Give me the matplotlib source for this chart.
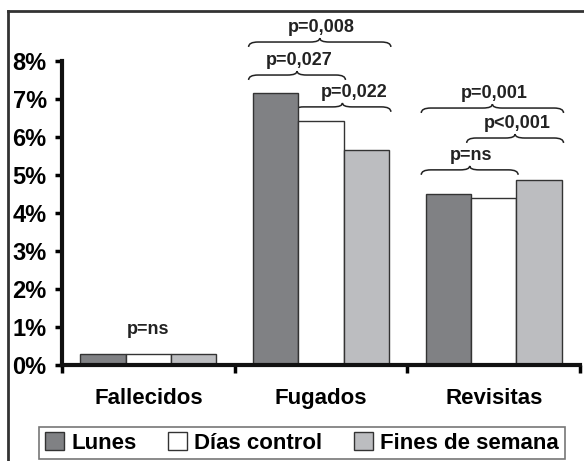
import numpy as np
import matplotlib
matplotlib.use('Agg')
import matplotlib.pyplot as plt
from matplotlib.path import Path
from matplotlib.patches import PathPatch
from matplotlib.lines import Line2D

plt.rcParams['font.family'] = ['Liberation Sans', 'DejaVu Sans']
plt.rcParams['font.weight'] = 'bold'

# ---------------------- datos ----------------------
categorias = ['Fallecidos', 'Fugados', 'Revisitas']
series = ['Lunes', 'Días control', 'Fines de semana']
lunes = [0.29, 7.15, 4.49]
control = [0.28, 6.43, 4.38]
fines = [0.27, 5.66, 4.87]
yticks = [0, 1, 2, 3, 4, 5, 6, 7, 8]

# llaves: (grupo, serie inicial, serie final, altura llave, texto, desplazamiento texto)
llaves = [
    (1, 0, 1, 7.63, 'p=0,027', 0.01),
    (1, 0, 2, 8.50, 'p=0,008', 0.01),
    (1, 1, 2, 6.79, 'p=0,022', 0.07),
    (2, 0, 2, 6.76, 'p=0,001', 0.01),
    (2, 1, 2, 5.97, 'p<0,001', 0.01),
    (2, 0, 1, 5.13, 'p=ns', 0.01),
]

colores = ['#808184', '#ffffff', '#bcbdc0']
borde = '#333333'


def dibujar_llave(ax, x0, x1, y, h=0.13, r=0.055):
    """llave horizontal: extremos hacia abajo, punta central hacia arriba"""
    xm = (x0 + x1) / 2
    verts = [
        (x0, y - h), (x0, y), (x0 + r, y),
        (xm - r, y),
        (xm, y), (xm, y + h * 0.8),
        (xm, y), (xm + r, y),
        (x1 - r, y),
        (x1, y), (x1, y - h),
    ]
    codes = [Path.MOVETO, Path.CURVE3, Path.CURVE3,
             Path.LINETO,
             Path.CURVE3, Path.CURVE3,
             Path.CURVE3, Path.CURVE3,
             Path.LINETO,
             Path.CURVE3, Path.CURVE3]
    ax.add_patch(PathPatch(Path(verts, codes), fill=False, lw=1.1,
                           edgecolor='#222222', clip_on=False))
    return xm


fig = plt.figure(figsize=(5.84, 4.61), dpi=100)
ax = fig.add_axes([0.1062, 0.2093, 0.887, 0.6584])

x = np.arange(len(categorias))
w = 0.263
valores = [lunes, control, fines]
for i, (nombre, vals) in enumerate(zip(series, valores)):
    ax.bar(x + (i - 1) * w, vals, width=w, color=colores[i],
           edgecolor=borde, linewidth=1.0, label=nombre, zorder=2)

ax.set_xlim(-0.5, 2.5)
ax.set_ylim(0, 8)
ax.set_yticks(yticks)
ax.set_yticklabels([f'{t}%' for t in yticks], fontsize=17, fontweight='bold')
ax.set_xticks([-0.5, 0.5, 1.5, 2.5])
ax.set_xticklabels([])
ax.set_xticks(x, minor=True)
ax.set_xticklabels(categorias, minor=True, fontsize=16, fontweight='bold')
ax.tick_params(axis='x', which='minor', length=0, pad=17)
ax.tick_params(axis='x', which='major', length=6, width=2.5, direction='out')
ax.tick_params(axis='y', length=5, width=2.5, direction='out', pad=6)

for s in ['top', 'right']:
    ax.spines[s].set_visible(False)
for s in ['left', 'bottom']:
    ax.spines[s].set_linewidth(3)
    ax.spines[s].set_color('#111111')

# llaves con valores p
for g, a, b, y, txt, dx in llaves:
    x0 = g + (a - 1) * w - w / 2 - 0.025
    x1 = g + (b - 1) * w + w / 2 + 0.01
    xm = dibujar_llave(ax, x0, x1, y)
    ax.text(xm + dx, y + 0.38, txt, ha='center', va='center',
            fontsize=13, fontweight='bold', color='#222222', clip_on=False)

ax.text(0, 0.91, 'p=ns', ha='center', va='center', fontsize=13,
        fontweight='bold', color='#222222')

# leyenda
leg = fig.legend(loc='center', bbox_to_anchor=(0.517, 0.039), ncol=3,
                 frameon=True, fancybox=False, edgecolor='#555555',
                 handlelength=0.85, handleheight=0.85, handletextpad=0.35,
                 columnspacing=1.4, borderpad=0.25, borderaxespad=0,
                 prop={'weight': 'bold', 'size': 16})
leg.get_frame().set_linewidth(1.2)

# marco exterior
fig.add_artist(Line2D([8 / 584, 8 / 584], [0, 1 - 11 / 461], color='#333333', lw=2))
fig.add_artist(Line2D([8 / 584, 1], [1 - 11 / 461, 1 - 11 / 461], color='#333333', lw=2))

fig.savefig('out.png', dpi=100)
